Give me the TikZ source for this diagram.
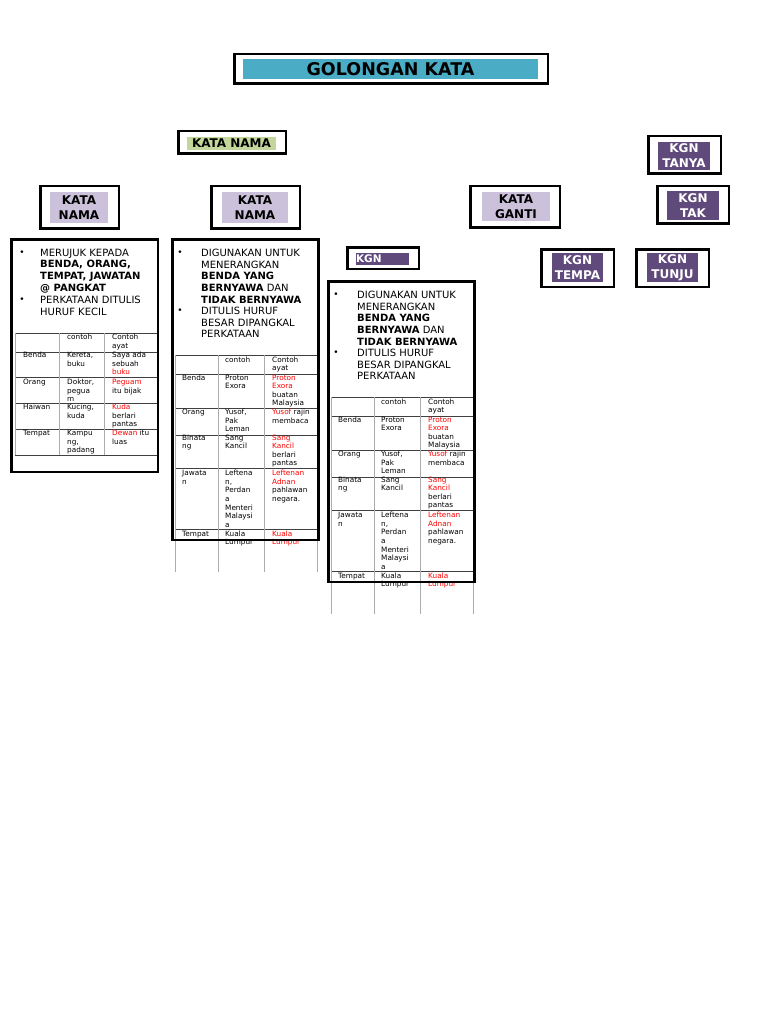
\documentclass[tikz,border=0pt]{standalone}
\usepackage{fontspec}
\setmainfont{DejaVu Sans}
\definecolor{titlecyan}{HTML}{4BACC6}
\definecolor{namegreen}{HTML}{C3D69B}
\definecolor{lav}{HTML}{CCC1DA}
\definecolor{kgnpurple}{HTML}{604A7B}
\definecolor{txtred}{HTML}{FF0000}
\newcommand{\fsz}[2]{\fontsize{#1}{#2}\selectfont}
\newcommand{\rd}[1]{\textcolor{txtred}{#1}}
\tikzset{
  outerbox/.style={draw=black, line width=2.5pt, fill=white, inner sep=0pt, rectangle},
  panelfill/.style={fill=white, inner sep=0pt, rectangle},
  frame/.style={draw=black, line width=2.5pt},
  greenlabel/.style={fill=namegreen, inner sep=0pt, font=\bfseries\fsz{12}{15}},
  lavlabel/.style={fill=lav, inner sep=0pt, align=center, font=\bfseries\fsz{12}{15}},
  kgnlabel/.style={fill=kgnpurple, text=white, inner sep=0pt, align=center, font=\bfseries\fsz{12}{15}},
  bodytxt/.style={anchor=north west, inner sep=0pt, align=left, font=\fsz{10}{11.7}, yshift=-2pt},
  bulletmark/.style={inner sep=0pt, font=\fsz{9}{9}},
  celltxt/.style={anchor=north west, inner sep=0pt, align=left, font=\fsz{7.3}{8.6}, yshift=-1.5pt},
  gridh/.style={draw=black!75, line width=0.8pt},
  gridv/.style={draw=gray!65, line width=0.8pt}
}
\newcommand{\nounpanel}[3]{%
\begin{scope}[shift={(#1,#2)}]
  \node[panelfill, minimum width=145.5pt, minimum height=300pt, anchor=north west] (#3box) at (172.5,239.5) {};
  \node[bulletmark] (#3b1) at (180,253) {•};
  \node[bodytxt] (#3p1) at (201,246.7) {DIGUNAKAN UNTUK\\MENERANGKAN\\\textbf{BENDA YANG}\\\textbf{BERNYAWA} DAN\\\textbf{TIDAK BERNYAWA}};
  \node[bulletmark] (#3b2) at (180,311) {•};
  \node[bodytxt] (#3p2) at (201,304.7) {DITULIS HURUF\\BESAR DIPANGKAL\\PERKATAAN};
  \foreach \yy in {355,374,408,435,468,529} \draw[gridh] (175,\yy) -- (317,\yy);
  \foreach \xx in {175,218,264,317} \draw[gridv] (\xx,355) -- (\xx,572);
  \node[celltxt] (#3h2) at (225,355) {contoh};
  \node[celltxt] (#3h3) at (272,355) {Contoh\\ayat};
  \node[celltxt] (#3a1) at (182,373) {Benda};
  \node[celltxt] (#3a2) at (225,373) {Proton\\Exora};
  \node[celltxt] (#3a3) at (272,373) {\rd{Proton}\\\rd{Exora}\\buatan\\Malaysia};
  \node[celltxt] (#3c1) at (182,407.5) {Orang};
  \node[celltxt] (#3c2) at (225,407.5) {Yusof,\\Pak\\Leman};
  \node[celltxt] (#3c3) at (272,407.5) {\rd{Yusof} rajin\\membaca};
  \node[celltxt] (#3d1) at (182,433) {Binata\\ng};
  \node[celltxt] (#3d2) at (225,433) {Sang\\Kancil};
  \node[celltxt] (#3d3) at (272,433) {\rd{Sang}\\\rd{Kancil}\\berlari\\pantas};
  \node[celltxt] (#3e1) at (182,468.5) {Jawata\\n};
  \node[celltxt] (#3e2) at (225,468.5) {Leftena\\n,\\Perdan\\a\\Menteri\\Malaysi\\a};
  \node[celltxt] (#3e3) at (272,468.5) {\rd{Leftenan}\\\rd{Adnan}\\pahlawan\\negara.};
  \node[celltxt] (#3f1) at (182,529) {Tempat};
  \node[celltxt] (#3f2) at (225,529) {Kuala\\Lumpur};
  \node[celltxt] (#3f3) at (272,529) {\rd{Kuala}\\\rd{Lumpur}};
  \draw[frame] (#3box.north west) rectangle (#3box.south east);
\end{scope}}
\begin{document}
\begin{tikzpicture}[x=1pt,y=-1pt]
\useasboundingbox (0,0) rectangle (768,1024);
\fill[white] (0,0) rectangle (768,1024);
% title
\node[outerbox, minimum width=313.5pt, minimum height=29.5pt] (titlebox) at (391,69) {};
\node[fill=titlecyan, minimum width=295pt, minimum height=20pt, inner sep=0pt, font=\bfseries\fsz{17.5}{20}] (title) at (390.5,69) {GOLONGAN KATA};
% kata nama top
\node[outerbox, minimum width=107.5pt, minimum height=22.5pt] (knbox) at (232,142.5) {};
\node[greenlabel, minimum width=89pt, minimum height=13pt] (kn) at (231.5,143.5) {KATA NAMA};
% lavender boxes
\node[outerbox, minimum width=78.5pt, minimum height=42.5pt] (kn1box) at (79.5,207.5) {};
\node[lavlabel, minimum width=58pt, minimum height=31pt] (kn1) at (79,207.5) {KATA\\NAMA};
\node[outerbox, minimum width=88.5pt, minimum height=42.5pt] (kn2box) at (255.5,207.5) {};
\node[lavlabel, minimum width=66pt, minimum height=31pt] (kn2) at (255,207.5) {KATA\\NAMA};
\node[outerbox, minimum width=89.5pt, minimum height=41.5pt] (kgbox) at (515,207) {};
\node[lavlabel, minimum width=68pt, minimum height=29pt] (kg) at (516,206.5) {KATA\\GANTI};
% KGN boxes
\node[outerbox, minimum width=72.5pt, minimum height=37.5pt] (tanyabox) at (684.5,155) {};
\node[kgnlabel, minimum width=52pt, minimum height=28pt] (tanya) at (684,156) {KGN\\TANYA};
\node[outerbox, minimum width=71.5pt, minimum height=37.5pt] (takbox) at (693,205) {};
\node[kgnlabel, minimum width=52pt, minimum height=29pt] (tak) at (693,205.5) {KGN\\TAK};
\node[outerbox, minimum width=72.5pt, minimum height=37.5pt] (tempabox) at (577.5,268) {};
\node[kgnlabel, minimum width=51pt, minimum height=29pt] (tempa) at (577.5,267.5) {KGN\\TEMPA};
\node[outerbox, minimum width=72.5pt, minimum height=37.5pt] (tunjubox) at (672.5,268) {};
\node[kgnlabel, minimum width=51pt, minimum height=29pt] (tunju) at (672.5,267.5) {KGN\\TUNJU};
\node[outerbox, minimum width=71.5pt, minimum height=21.5pt] (kgnbox) at (383,258) {};
\node[fill=kgnpurple, text=white, inner sep=0pt, text width=53pt, minimum height=12pt, align=left, font=\bfseries\fsz{10.5}{12}] (kgn) at (382.5,259) {KGN};
% left panel
\node[panelfill, minimum width=146pt, minimum height=232pt, anchor=north west] (lbox) at (11.5,239.5) {};
\node[bulletmark] (lb1) at (22,253.5) {•};
\node[bodytxt, font=\fsz{10}{11.8}] (lp1) at (40,246.7) {MERUJUK KEPADA\\\textbf{BENDA, ORANG,}\\\textbf{TEMPAT, JAWATAN}\\\textbf{@ PANGKAT}};
\node[bulletmark] (lb2) at (22,300.5) {•};
\node[bodytxt, font=\fsz{10}{11.8}] (lp2) at (40,293.9) {PERKATAAN DITULIS\\HURUF KECIL};
\foreach \yy in {333,352,377,403,429,455} \draw[gridh] (15,\yy) -- (157,\yy);
\foreach \xx in {15,59,104,157} \draw[gridv] (\xx,333) -- (\xx,455);
\node[celltxt] (lh2) at (67,332.5) {contoh};
\node[celltxt] (lh3) at (112,332.5) {Contoh\\ayat};
\node[celltxt] (la1) at (23,350.5) {Benda};
\node[celltxt] (la2) at (67,350.5) {Kereta,\\buku};
\node[celltxt] (la3) at (112,350.5) {Saya ada\\sebuah\\\rd{buku}};
\node[celltxt] (lc1) at (23,377.5) {Orang};
\node[celltxt] (lc2) at (67,377.5) {Doktor,\\pegua\\m};
\node[celltxt] (lc3) at (112,377.5) {\rd{Peguam}\\itu bijak};
\node[celltxt] (ld1) at (23,402.5) {Haiwan};
\node[celltxt] (ld2) at (67,402.5) {Kucing,\\kuda};
\node[celltxt] (ld3) at (112,402.5) {\rd{Kuda}\\berlari\\pantas};
\node[celltxt] (le1) at (23,428.5) {Tempat};
\node[celltxt] (le2) at (67,428.5) {Kampu\\ng,\\padang};
\node[celltxt] (le3) at (112,428.5) {\rd{Dewan} itu\\luas};
\draw[frame] (lbox.north west) rectangle (lbox.south east);
% middle and right panels
\nounpanel{0}{0}{m}
\nounpanel{156}{42}{r}
\end{tikzpicture}
\end{document}
